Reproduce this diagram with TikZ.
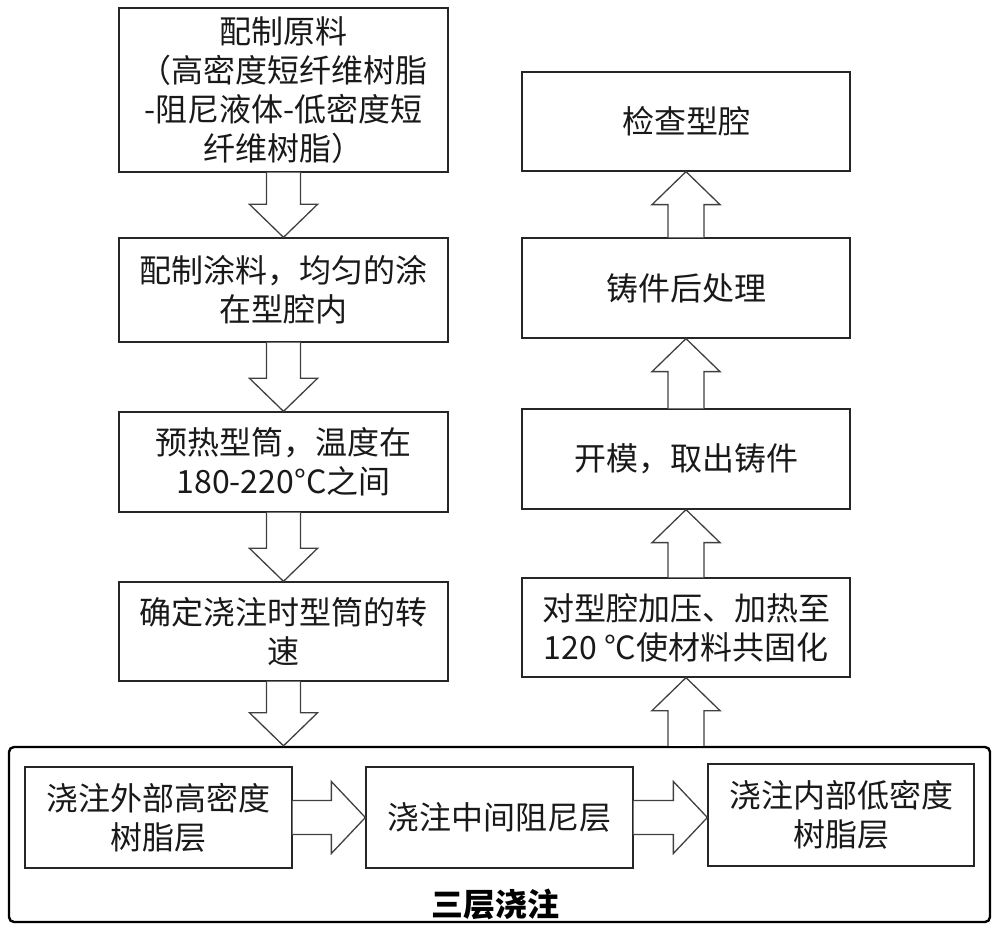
\documentclass[tikz,border=0pt]{standalone}
\usepackage{fontspec}
\setmainfont{Noto Sans CJK SC}
\usetikzlibrary{calc}
\tikzset{
  stepbox/.style={draw=black!85, line width=1.3pt, inner sep=0pt, align=center,
    font=\fontsize{32}{39}\selectfont, text=black!90},
  groupbox/.style={draw=black, line width=2.4pt, rounded corners=5pt},
  blockarrow/.style={draw=black!75, line width=1.3pt, fill=white, line join=miter},
  grouplabel/.style={font=\fontsize{32}{39}\selectfont\bfseries, text=black}
}
\newcommand\hollowdown[2]{%
  \draw[blockarrow] let \p1=(#1.south), \p2=(#2.north) in
    (\x1-17pt,\y1) -- (\x1-17pt,\y2+33pt) -- (\x1-34pt,\y2+33pt) -- (\x1,\y2)
    -- (\x1+34pt,\y2+33pt) -- (\x1+17pt,\y2+33pt) -- (\x1+17pt,\y1);}
\newcommand\hollowup[2]{%
  \draw[blockarrow] let \p1=(#2.south), \p2=(#1.north) in
    (\x1-18pt,\y2) -- (\x1-18pt,\y1-33pt) -- (\x1-34pt,\y1-33pt) -- (\x1,\y1)
    -- (\x1+34pt,\y1-33pt) -- (\x1+18pt,\y1-33pt) -- (\x1+18pt,\y2);}
\newcommand\hollowright[2]{%
  \draw[blockarrow] let \p1=(#1.east), \p2=(#2.west) in
    (\x1,\y1+17pt) -- (\x2-34pt,\y1+17pt) -- (\x2-34pt,\y1+36pt) -- (\x2,\y1)
    -- (\x2-34pt,\y1-36pt) -- (\x2-34pt,\y1-17pt) -- (\x1,\y1-17pt);}
\begin{document}
\begin{tikzpicture}[x=1pt,y=1pt]
\useasboundingbox (0,0) rectangle (1000,932);
% left column (image y -> 932 - y)
\node[stepbox, minimum width=329pt, minimum height=164pt] (l1) at (283.5,842)
  {配制原料\\（高密度短纤维树脂\\-阻尼液体-低密度短\\纤维树脂）};
\node[stepbox, minimum width=329pt, minimum height=104pt] (l2) at (283.5,642)
  {配制涂料，均匀的涂\\在型腔内};
\node[stepbox, minimum width=329pt, minimum height=100pt] (l3) at (283.5,470)
  {预热型筒，温度在\\180-220°C之间};
\node[stepbox, minimum width=329pt, minimum height=99pt] (l4) at (283.5,300.5)
  {确定浇注时型筒的转\\速};
% group
\node[groupbox, minimum width=981pt, minimum height=175pt] (grp) at (499.5,97.5) {};
\node[stepbox, minimum width=267pt, minimum height=101pt] (ga) at (158.5,114.5)
  {浇注外部高密度\\树脂层};
\node[stepbox, minimum width=267pt, minimum height=101pt] (gb) at (499.5,114.5)
  {浇注中间阻尼层};
\node[stepbox, minimum width=266pt, minimum height=102pt] (gc) at (841,117)
  {浇注内部低密度\\树脂层};
\node[grouplabel] (glabel) at (495,28) {三层浇注};
% right column
\node[stepbox, minimum width=328pt, minimum height=99pt] (r1) at (686,810.5)
  {检查型腔};
\node[stepbox, minimum width=328pt, minimum height=100pt] (r2) at (686,644)
  {铸件后处理};
\node[stepbox, minimum width=328pt, minimum height=100pt] (r3) at (686,473)
  {开模，取出铸件};
\node[stepbox, minimum width=328pt, minimum height=99pt] (r4) at (686,304.5)
  {对型腔加压、加热至\\120 °C使材料共固化};
% arrows
\hollowdown{l1}{l2}
\hollowdown{l2}{l3}
\hollowdown{l3}{l4}
\hollowdown{l4}{grp}
\hollowright{ga}{gb}
\hollowright{gb}{gc}
\hollowup{r4}{r3}
\hollowup{r3}{r2}
\hollowup{r2}{r1}
\draw[blockarrow] let \p1=(r4.south), \p2=(grp.north) in
    (\x1-18pt,\y2) -- (\x1-18pt,\y1-33pt) -- (\x1-34pt,\y1-33pt) -- (\x1,\y1)
    -- (\x1+34pt,\y1-33pt) -- (\x1+18pt,\y1-33pt) -- (\x1+18pt,\y2);
\end{tikzpicture}
\end{document}
